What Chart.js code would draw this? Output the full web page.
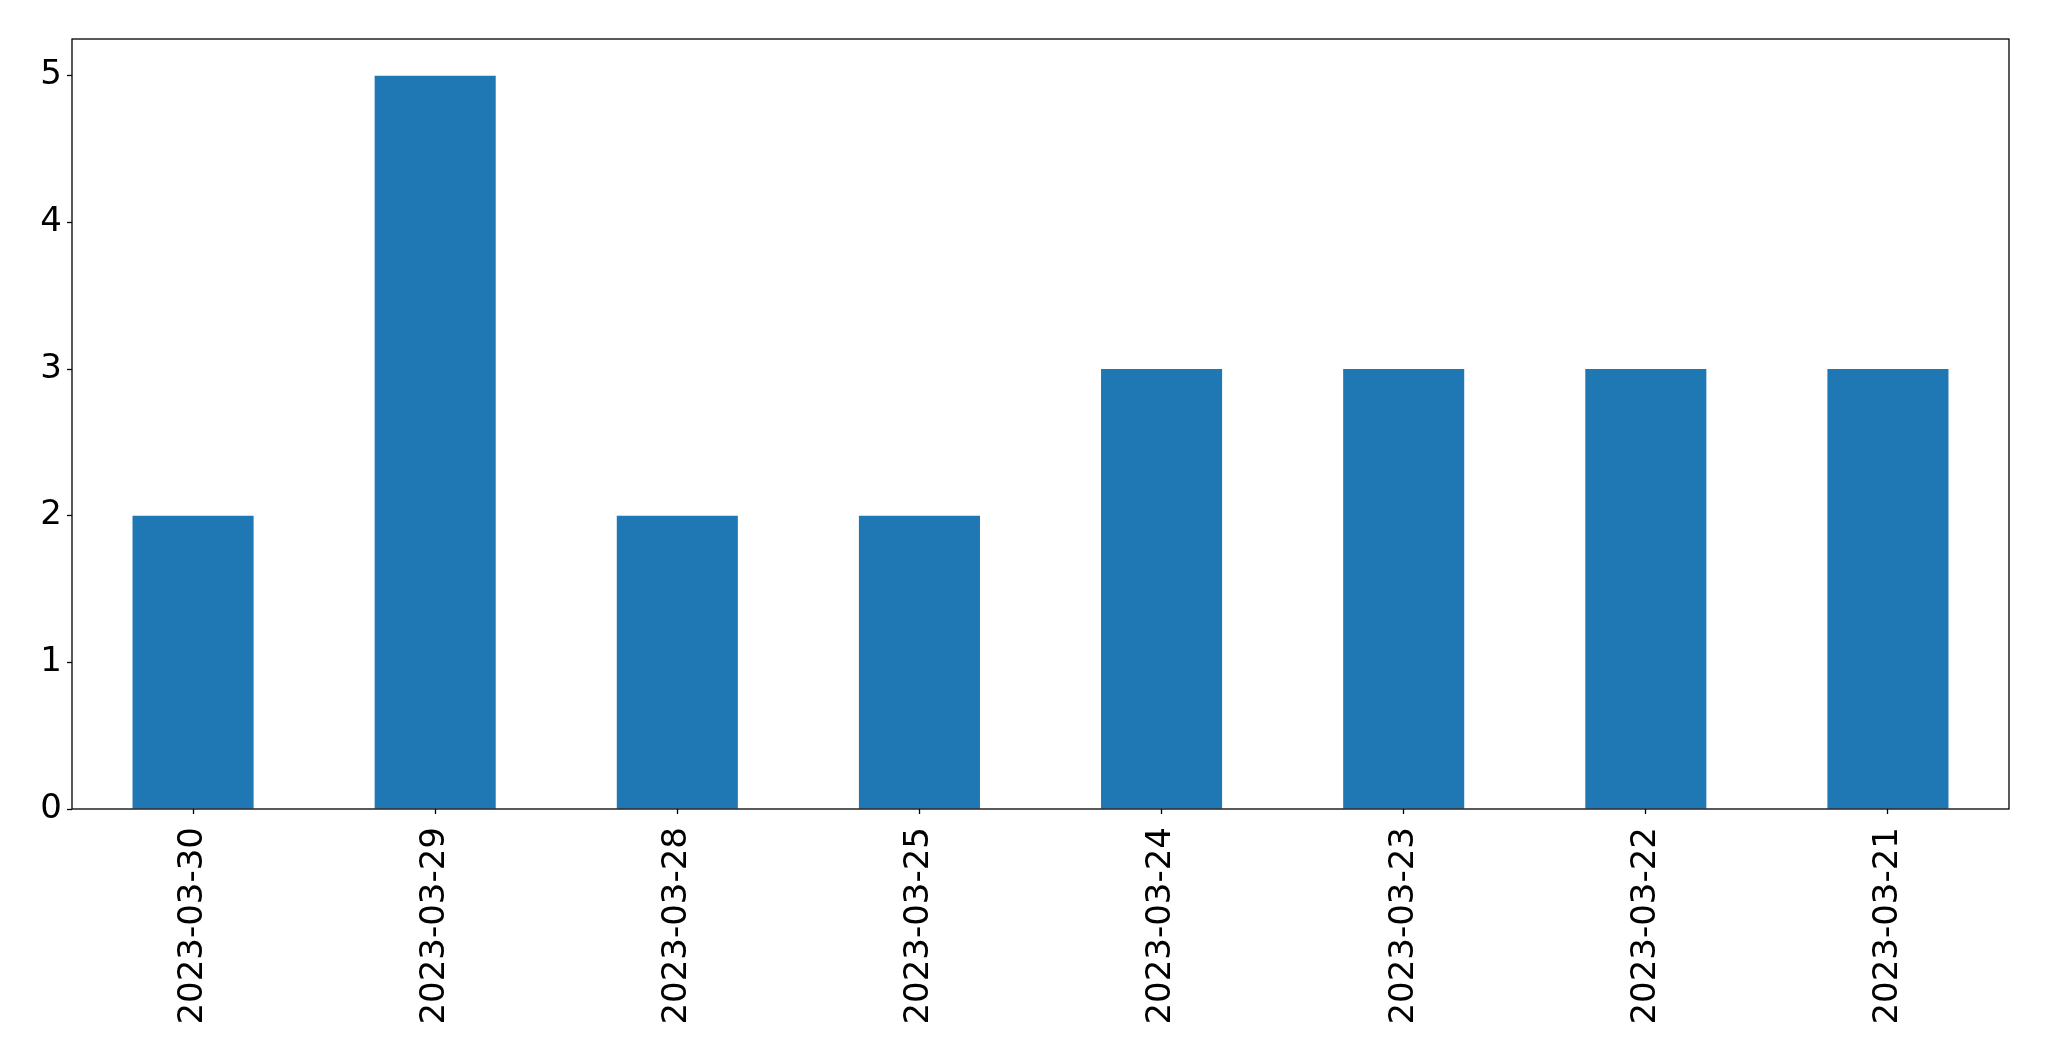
<!DOCTYPE html>
<html>
<head>
<meta charset="utf-8">
<script src="https://cdn.jsdelivr.net/npm/chart.js@4"></script>
<style>
  html, body { margin: 0; padding: 0; background: #fff; }
  #wrap { width: 2049px; height: 1061px; }
</style>
</head>
<body>
<div id="wrap"><canvas id="chart" width="2049" height="1061"></canvas></div>
<script>
// data
const dates = ['2023-03-30', '2023-03-29', '2023-03-28', '2023-03-25', '2023-03-24', '2023-03-23', '2023-03-22', '2023-03-21'];
const counts = [2, 5, 2, 2, 3, 3, 3, 3];
const yTicks = [0, 1, 2, 3, 4, 5];

// draws the box round the plot area, like matplotlib's spines
const frame = {
    id: 'frame',
    afterDraw(chart) {
        const a = chart.chartArea;
        const ctx = chart.ctx;
        ctx.save();
        ctx.strokeStyle = '#000';
        ctx.lineWidth = 1.3;
        ctx.strokeRect(a.left, a.top, a.right - a.left, a.bottom - a.top);
        ctx.restore();
    }
};

const ctx = document.getElementById('chart').getContext('2d');
new Chart(ctx, {
    type: 'bar',
    data: {
        labels: dates,
        datasets: [{
            data: counts,
            backgroundColor: '#1f77b4',
            borderWidth: 0,
            barPercentage: 0.5,
            categoryPercentage: 1.0
        }]
    },
    options: {
        responsive: false,
        animation: false,
        layout: { padding: { top: 39, right: 40, left: 0, bottom: 0 } },
        plugins: { legend: { display: false }, tooltip: { enabled: false } },
        scales: {
            x: {
                offset: true,
                grid: { display: true, offset: false, drawOnChartArea: false, drawTicks: true, tickLength: 5, tickColor: '#000', tickWidth: 1.3 },
                border: { display: false },
                ticks: {
                    color: '#000',
                    font: { family: 'DejaVu Sans', size: 34 },
                    minRotation: 90,
                    maxRotation: 90,
                    padding: 13,
                    autoSkip: false
                },
                afterFit: (scale) => { scale.height = 252; }
            },
            y: {
                min: 0,
                max: 5.25,
                grid: { display: true, drawOnChartArea: false, drawTicks: true, tickLength: 5, tickColor: '#000', tickWidth: 1.3 },
                border: { display: false },
                ticks: {
                    stepSize: 1,
                    color: '#000',
                    font: { family: 'DejaVu Sans', size: 34 },
                    padding: 5
                },
                afterBuildTicks: (scale) => {
                    scale.ticks = yTicks.map(v => ({ value: v }));
                },
                afterFit: (scale) => { scale.width = 72; }
            }
        }
    },
    plugins: [frame]
});
</script>
</body>
</html>
